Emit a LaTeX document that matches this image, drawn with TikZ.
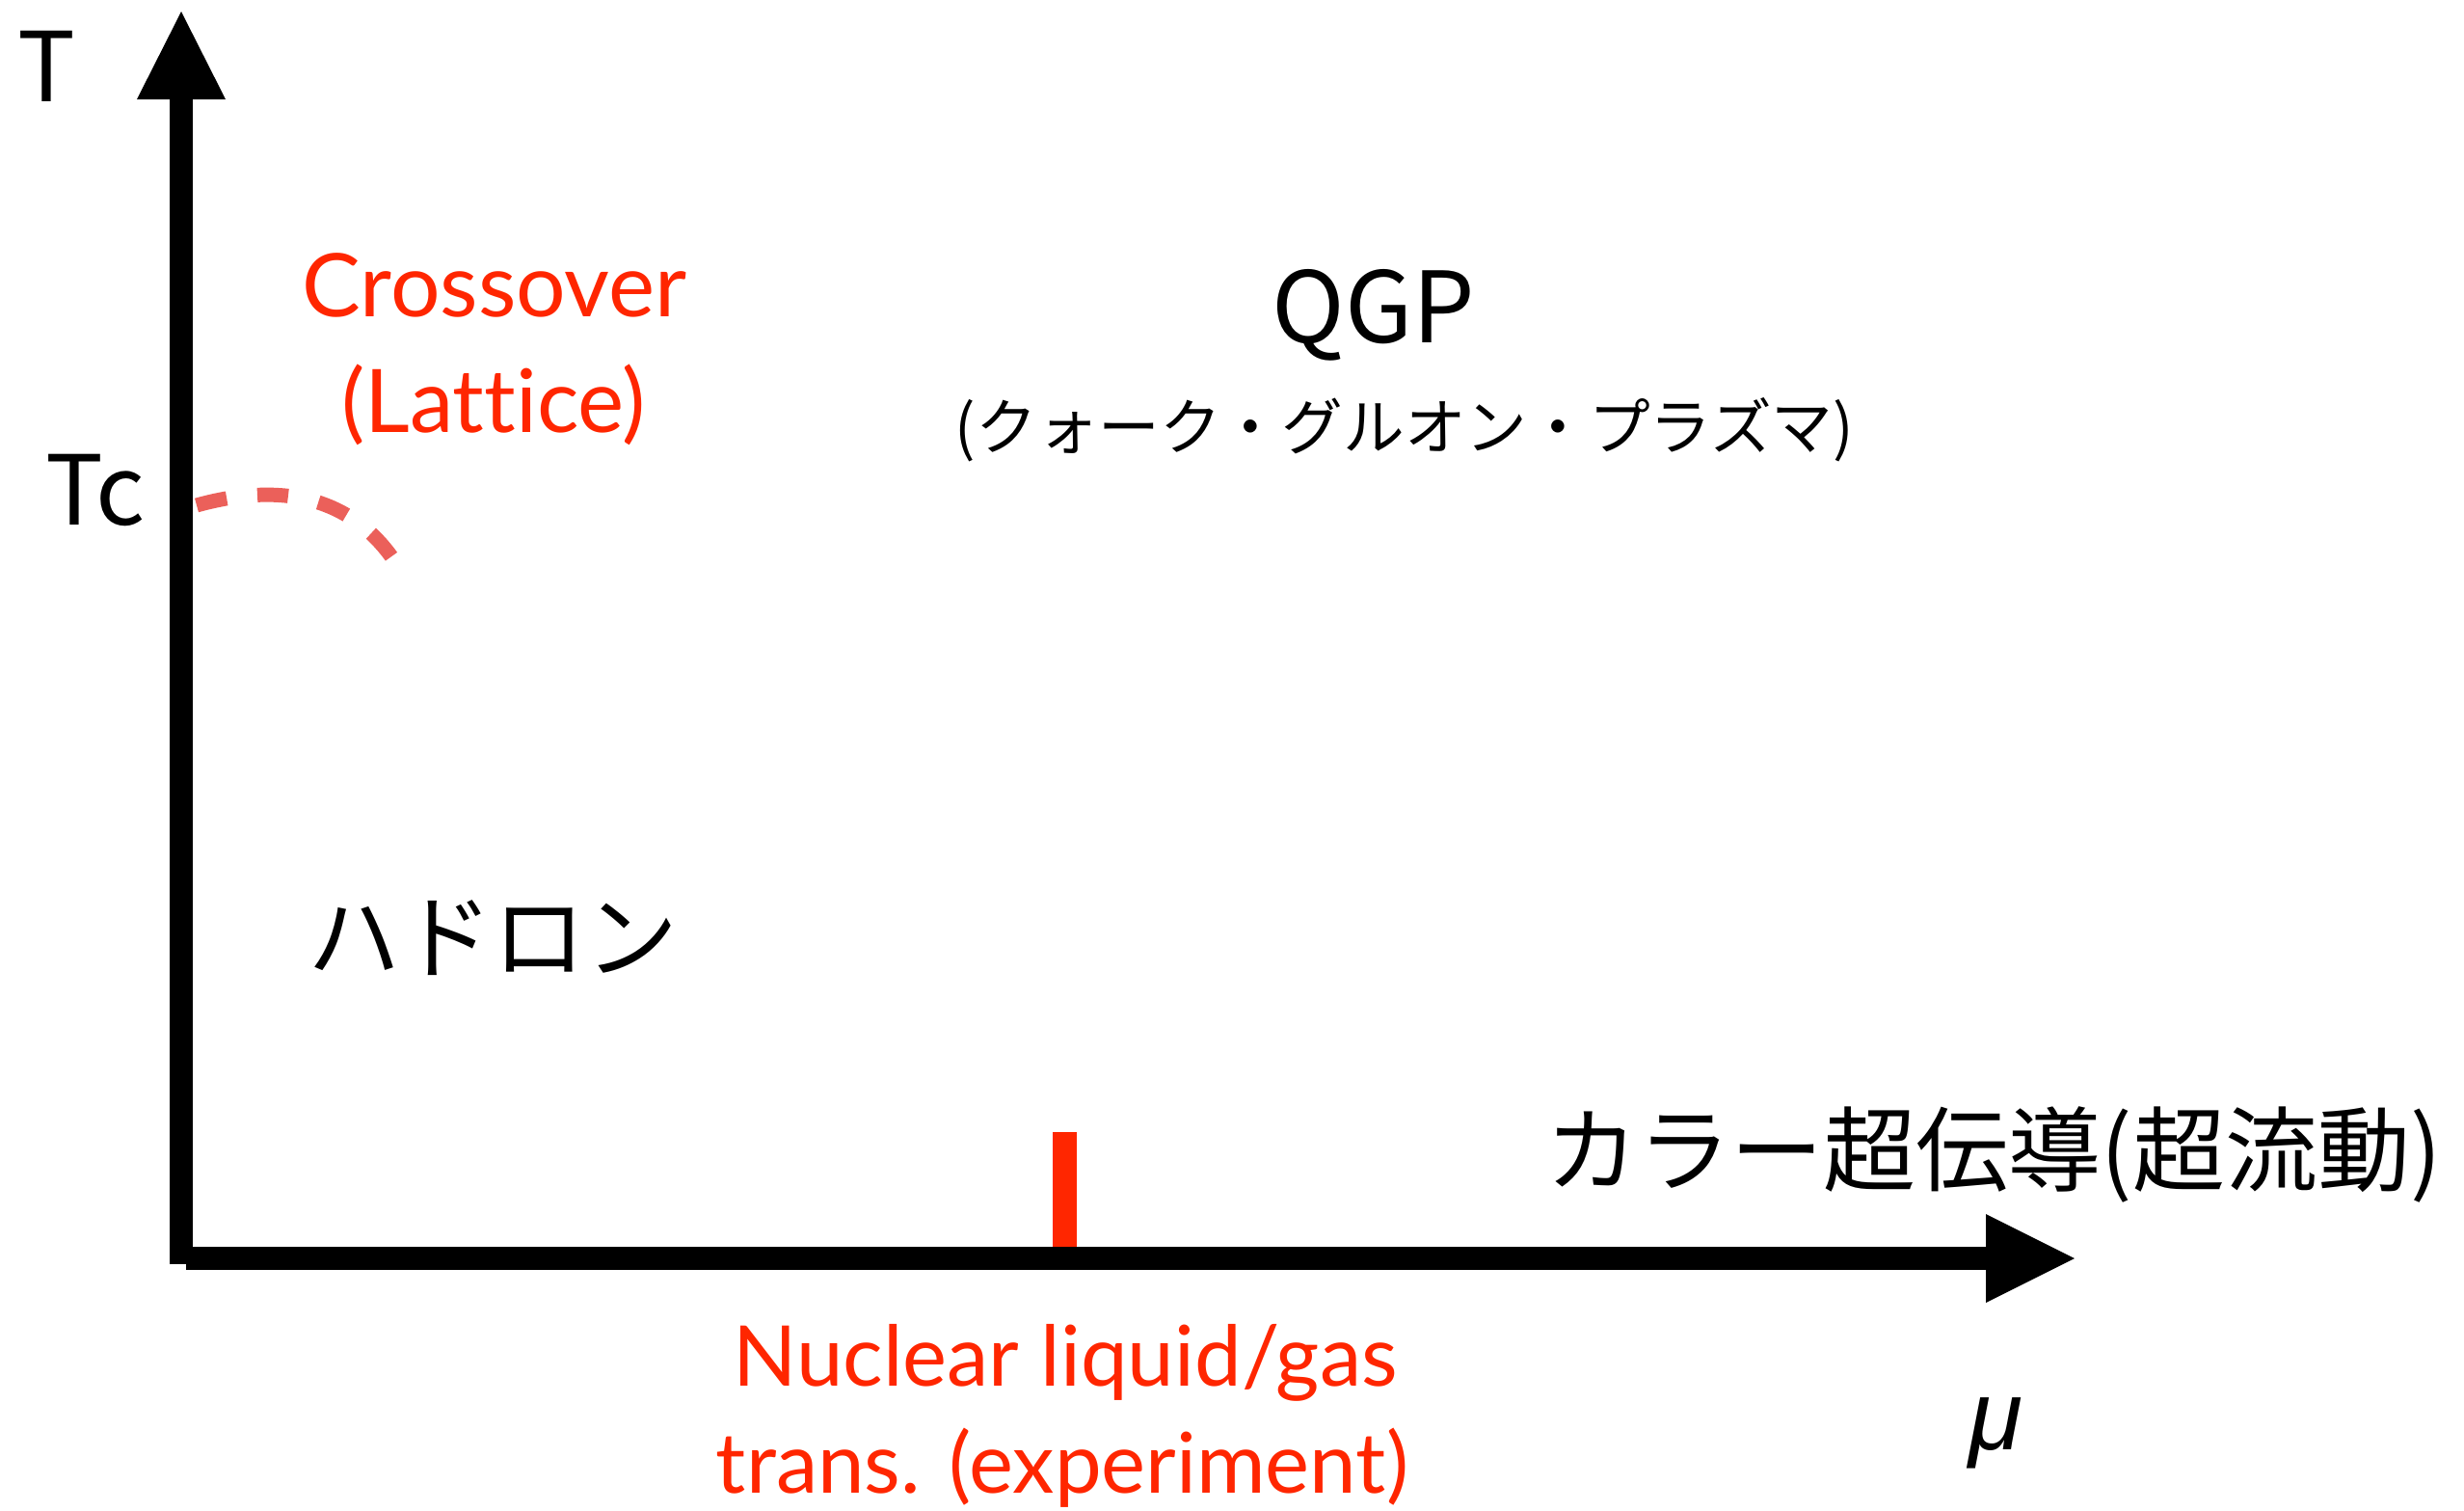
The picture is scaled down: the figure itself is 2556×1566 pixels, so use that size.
\documentclass[tikz,border=0pt]{standalone}
\usepackage{fontspec}
\setmainfont{Noto Sans CJK JP}
\newfontfamily\redfont[Ligatures=NoCommon]{Lato}
\newfontfamily\mufont{Liberation Sans}
\definecolor{axred}{RGB}{255,38,0}
\definecolor{dashred}{RGB}{235,96,90}
\begin{document}
\begin{tikzpicture}[x=1pt,y=-1pt,
  lbl/.style={inner sep=0pt,outer sep=0pt},
  axisline/.style={line width=24pt,line cap=butt},
  headfill/.style={fill=black,draw=none},
  redtxt/.style={lbl,text=axred,font=\redfont\fontsize{91}{100}\selectfont},
  redtxtsm/.style={lbl,text=axred,font=\redfont\fontsize{87}{100}\selectfont},
  blk/.style={lbl,font=\fontsize{100}{110}\selectfont},
  jpbig/.style={lbl,font=\fontsize{96}{100}\selectfont},
  jpsmall/.style={lbl,font=\fontsize{63.7}{70}\selectfont}]
\useasboundingbox (0,0) rectangle (2556,1566);
% axes
\coordinate (vbot) at (188,1311);
\coordinate (vbase) at (188,101);
\coordinate (vtip) at (188,12);
\coordinate (hbeg) at (193,1305);
\coordinate (hbase) at (2062,1305);
\coordinate (htip) at (2152,1305);
\draw[axisline] (vbot) -- (vbase);
\fill[headfill] (vtip) -- (234,103) -- (142,103) -- cycle;
\draw[axisline] (hbeg) -- (hbase);
\fill[headfill] (htip) -- (2060,1351) -- (2060,1259) -- cycle;
% red tick
\coordinate (tickbot) at (1104.5,1293);
\coordinate (ticktop) at (1104.5,1174);
\draw[axred,line width=25pt,line cap=butt] (tickbot) -- (ticktop);
% dashed crossover curve
\coordinate (cs) at (204,524);
\coordinate (ce) at (408,580);
\draw[dashred,line width=15pt,dash pattern=on 32pt off 32pt,line cap=butt]
  (cs) .. controls (265,507) and (352,500) .. (ce);
% labels
\node[blk,anchor=base] (T) at (48,105) {T};
\node[blk,anchor=base] (Tc) at (99,544) {Tc};
\node[redtxt,anchor=base] (cross) at (513,328) {Crossover};
\node[redtxt,anchor=base] (latt) at (512,448) {(Lattice)};
\node[blk,anchor=base,font=\fontsize{102}{110}\selectfont] (qgp) at (1425,355) {QGP};
\node[jpsmall] (qgpj) at (1457,446) {(クォーク・グルオン・プラズマ)};
\node[jpbig] (hadron) at (511,973) {ハドロン};
\node[jpbig] (csc) at (2068,1197) {カラー超伝導(超流動)};
\node[redtxtsm,anchor=base] (nuc1) at (1105,1437) {Nuclear liquid/gas};
\node[redtxtsm,anchor=base] (nuc2) at (1102,1548) {trans. (experiment)};
\node[lbl,anchor=base,font=\mufont\itshape\fontsize{102}{110}\selectfont] (mu) at (2070,1503) {μ};
\end{tikzpicture}
\end{document}
